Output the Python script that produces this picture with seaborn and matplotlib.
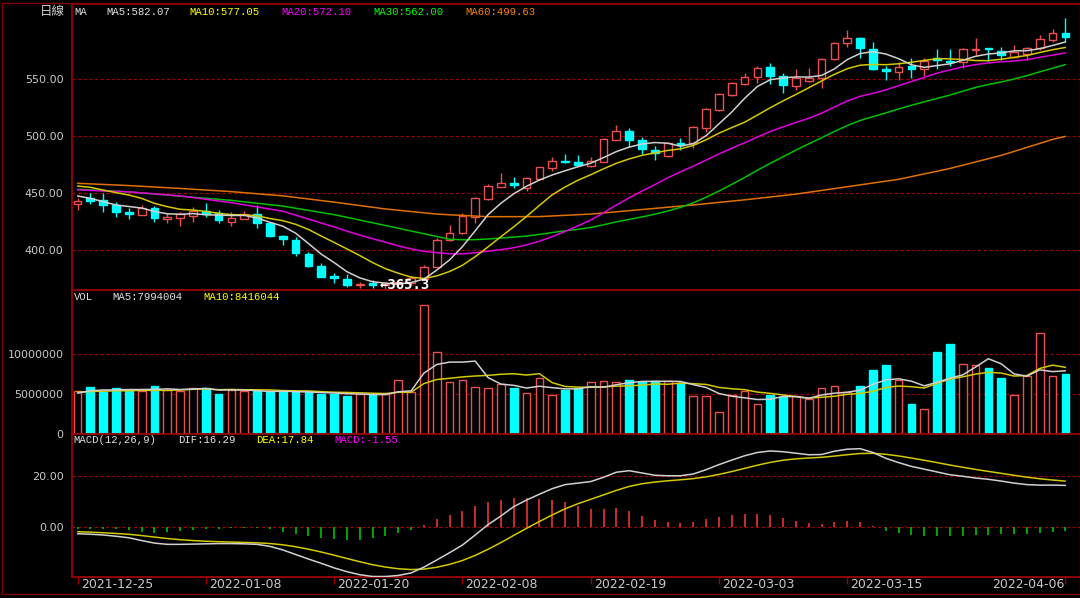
import numpy as np
import pandas as pd
import seaborn as sns
import matplotlib
matplotlib.use("Agg")
import matplotlib.pyplot as plt
from matplotlib.patches import Rectangle
from matplotlib.transforms import blended_transform_factory

# ----------------------------
# Daily bars
# ----------------------------
opens = [440.1, 445.3, 443.9, 439.5, 433.6, 430.7, 436.5, 427.2, 428.4, 430.1,
         434.5, 432.7, 424.8, 427.2, 431.6, 423.4, 412.6, 408.8, 396.5, 386.3,
         377.0, 374.2, 369.3, 370.7, 369.5, 370.3, 371.1, 374.2, 385.3, 408.7,
         414.6, 429.2, 444.4, 455.5, 459.0, 454.1, 462.2, 472.2, 478.0, 477.5,
         473.7, 477.5, 496.5, 504.7, 496.5, 487.7, 482.4, 493.6, 493.6, 506.7,
         522.8, 536.0, 545.3, 551.5, 560.2, 552.6, 543.8, 548.5, 550.6, 567.5,
         581.3, 585.7, 576.0, 558.5, 555.8, 561.7, 558.8, 568.1, 565.8, 565.2,
         575.2, 576.9, 574.8, 569.6, 571.6, 576.9, 584.2, 590.0]
closes = [443.3, 443.0, 439.2, 433.6, 431.6, 436.5, 427.8, 429.2, 431.6, 434.5,
          431.3, 426.3, 427.8, 431.6, 423.4, 412.3, 409.4, 397.1, 386.3, 376.6,
          375.5, 369.3, 370.0, 369.5, 370.3, 372.0, 375.4, 385.3, 408.7, 415.2,
          429.8, 445.3, 456.1, 458.4, 457.0, 462.8, 472.5, 478.3, 476.9, 474.5,
          478.4, 497.1, 504.7, 496.5, 488.3, 484.8, 494.1, 491.8, 507.6, 523.4,
          536.5, 546.2, 551.5, 559.9, 552.6, 544.7, 550.6, 550.6, 567.2, 581.3,
          585.7, 576.9, 558.8, 557.0, 560.8, 558.8, 565.8, 566.6, 564.6, 576.3,
          576.3, 576.0, 571.0, 574.0, 576.9, 585.1, 590.0, 586.5]
highs = [445.3, 449.7, 450.3, 442.4, 436.5, 439.5, 438.6, 432.2, 433.6, 438.0,
         440.9, 435.1, 433.6, 434.5, 439.5, 424.8, 413.2, 411.7, 398.5, 388.3,
         379.5, 378.9, 372.2, 373.6, 372.0, 373.5, 377.2, 386.8, 410.2, 421.9,
         432.1, 446.7, 457.9, 467.2, 464.3, 463.7, 473.1, 481.2, 484.2, 483.3,
         481.9, 497.9, 509.6, 506.7, 499.4, 491.2, 495.0, 497.9, 508.8, 524.3,
         537.4, 547.6, 555.5, 561.4, 563.7, 555.0, 558.5, 559.3, 568.1, 582.7,
         593.0, 587.1, 582.7, 561.4, 565.2, 568.1, 568.1, 576.3, 576.3, 577.5,
         586.2, 577.5, 578.3, 579.8, 578.3, 588.6, 593.8, 603.2]
lows = [435.1, 440.1, 433.6, 429.2, 426.9, 430.7, 424.8, 423.4, 421.0, 424.8,
        429.2, 423.4, 421.0, 427.2, 419.0, 411.7, 404.4, 394.7, 384.8, 376.0,
        370.7, 367.8, 366.3, 366.3, 365.3, 368.5, 369.3, 373.6, 384.8, 408.1,
        414.0, 423.4, 443.8, 455.5, 454.1, 452.0, 461.4, 469.6, 476.0, 473.6,
        472.5, 477.2, 496.5, 490.6, 484.2, 478.9, 481.9, 487.7, 489.2, 503.8,
        522.2, 535.4, 544.7, 546.8, 545.6, 538.0, 540.3, 547.7, 541.8, 566.6,
        578.3, 568.7, 557.9, 549.1, 549.1, 550.6, 552.9, 558.8, 561.7, 559.3,
        571.0, 565.8, 566.6, 568.1, 566.6, 575.4, 582.7, 582.1]
# volume in millions of shares
volumes_m = [5.4, 5.9, 5.2, 5.8, 5.5, 5.4, 6.0, 5.5, 5.4, 5.8,
             5.8, 5.0, 5.5, 5.4, 5.4, 5.25, 5.2, 5.2, 5.25, 5.0,
             5.0, 4.75, 5.0, 4.9, 5.0, 6.75, 5.3, 16.1, 10.3, 6.5,
             6.75, 5.9, 5.8, 6.25, 5.7, 5.1, 7.0, 4.9, 5.5, 5.7,
             6.5, 6.6, 6.5, 6.75, 6.5, 6.6, 6.6, 6.4, 4.75, 4.75,
             2.8, 4.9, 5.4, 3.7, 4.9, 4.6, 4.7, 4.4, 5.8, 6.0,
             5.2, 6.0, 8.0, 8.6, 6.7, 3.7, 3.1, 10.2, 11.2, 8.75,
             8.6, 8.3, 7.0, 4.9, 7.3, 12.6, 7.2, 7.5]
# MACD DIF line read per bar, DEA starts from the value shown at the first bar
dif = [-2.8, -3.0, -3.3, -3.8, -4.4, -5.5, -6.5, -7.0, -7.0, -6.9,
       -6.8, -6.7, -6.7, -6.8, -7.0, -7.8, -9.2, -11.0, -12.8, -14.5,
       -16.3, -17.8, -19.0, -19.7, -19.7, -19.3, -18.3, -16.0, -13.2, -10.3,
       -7.3, -3.3, 0.8, 4.2, 7.9, 10.5, 12.8, 15.0, 16.6, 17.2,
       17.8, 19.5, 21.5, 22.1, 21.2, 20.3, 20.1, 20.1, 20.8, 22.5,
       24.5, 26.3, 28.0, 29.3, 29.9, 29.6, 29.0, 28.4, 28.5, 29.8,
       30.6, 30.8, 29.3, 27.0, 25.3, 23.8, 22.7, 21.6, 20.5, 19.9,
       19.2, 18.7, 18.0, 17.2, 16.6, 16.4, 16.4, 16.29]
dea_first = -2.0

# moving-average values before the window fills
ma5_head = [447.4, 445.3, 442.4, 439.5]
ma10_head = [456.1, 455.0, 452.6, 450.3, 448.2, 445.3, 440.9, 438.0, 435.7]
ma20_head_idx = [0, 4, 8, 12, 16]
ma20_head = [452.7, 451.0, 447.5, 441.5, 434.0]
ma30_head_idx = [0, 4, 8, 12, 16, 20, 24]
ma30_head = [453.2, 451.0, 447.2, 443.5, 438.5, 431.0, 421.5]
ma60_idx = [0, 4, 8, 12, 16, 20, 24, 28, 32, 36, 40, 44, 48, 52, 56, 60, 64, 68, 72, 76, 77]
ma60_vals = [458.5, 456.5, 454.0, 451.2, 447.5, 442.0, 436.0, 431.5, 429.2, 429.3,
             431.5, 435.5, 439.5, 444.0, 449.0, 455.5, 462.0, 471.5, 483.0, 497.0, 499.63]
vol_ma5_head = [5.1, 5.4, 5.5, 5.5]
vol_ma10_head = [5.25, 5.3, 5.35, 5.4, 5.4, 5.45, 5.45, 5.45, 5.5]

tick_idx = [0, 10, 20, 30, 40, 50, 60, 77]
tick_labels = ["2021-12-25", "2022-01-08", "2022-01-20", "2022-02-08",
               "2022-02-19", "2022-03-03", "2022-03-15", "2022-04-06"]

price_ticks = [400, 450, 500, 550]
vol_ticks = [0, 5000000, 10000000]
macd_ticks = [0, 20]

# ----------------------------
# Derived series
# ----------------------------
df = pd.DataFrame({"open": opens, "close": closes, "high": highs,
                   "low": lows, "volume": np.array(volumes_m) * 1e6})
n = len(df)
x = np.arange(n)

ma5 = df["close"].rolling(5).mean().to_numpy()
ma5[:4] = ma5_head
ma10 = df["close"].rolling(10).mean().to_numpy()
ma10[:9] = ma10_head
ma20_roll = df["close"].rolling(20).mean()
ma20_x = ma20_head_idx + list(range(19, n))
ma20_y = ma20_head + list(ma20_roll.iloc[19:])
ma30_roll = df["close"].rolling(30).mean()
ma30_x = ma30_head_idx + list(range(29, n))
ma30_y = ma30_head + list(ma30_roll.iloc[29:])

vma5 = df["volume"].rolling(5).mean().to_numpy()
vma5[:4] = np.array(vol_ma5_head) * 1e6
vma10 = df["volume"].rolling(10).mean().to_numpy()
vma10[:9] = np.array(vol_ma10_head) * 1e6

dif_s = pd.Series(dif)
dea = pd.Series([dea_first] + dif[1:]).ewm(alpha=0.2, adjust=False).mean()
hist = dif_s - dea

# ----------------------------
# Style
# ----------------------------
sns.set_theme(style="dark", rc={"figure.facecolor": "black", "axes.facecolor": "black",
                                "axes.edgecolor": "#9a0000", "axes.grid": False,
                                "text.color": "#d0d0d0"})
plt.rcParams["font.family"] = ["DejaVu Sans", "Noto Sans CJK TC"]

RED = "#ec4f4f"
CYAN = "#00ffff"
FRAME = "#9a0000"
GRID = "#9a0000"
C_MA5 = "#d0d0d0"
C_MA10 = "#d4c800"
C_MA20 = "#e000e0"
C_MA30 = "#00c000"
C_MA60 = "#e07000"
LBL = "#c8c8c8"
TICKFONT = ["Liberation Sans Narrow", "DejaVu Sans"]
MONO = ["Liberation Mono", "DejaVu Sans Mono"]

W, H = 1080, 598
fig = plt.figure(figsize=(W / 100, H / 100), dpi=100)
left = 72 / W
width = 1 - left


def panel(top_px, bot_px):
    return fig.add_axes([left, 1 - bot_px / H, width, (bot_px - top_px) / H])


ax_p = panel(4, 290)
ax_v = panel(290, 434)
ax_m = panel(434, 577)

xlim = (-0.43, 78.14)
for ax in (ax_p, ax_v, ax_m):
    ax.set_facecolor("black")
    ax.set_xlim(*xlim)
    for side in ("right", "bottom"):
        ax.spines[side].set_visible(False)
    for side in ("left", "top"):
        ax.spines[side].set_color(FRAME)
        ax.spines[side].set_linewidth(1.3)
    ax.tick_params(axis="y", length=0, pad=6, labelsize=8, labelcolor=LBL)
    ax.tick_params(axis="x", bottom=False, labelbottom=False)
ax_m.spines["bottom"].set_visible(True)
ax_m.spines["bottom"].set_color(FRAME)
ax_m.spines["bottom"].set_linewidth(1.3)

# ----------------------------
# Price panel
# ----------------------------
ax_p.set_ylim(364.9, 615.8)
for v in price_ticks:
    ax_p.axhline(v, color=GRID, lw=0.8, ls=(0, (3, 2)), zorder=0)
ax_p.set_yticks(price_ticks)
ax_p.set_yticklabels([f"{v:.2f}" for v in price_ticks])

bw = 0.6
for i, r in df.iterrows():
    lo_b, hi_b = min(r.open, r.close), max(r.open, r.close)
    if r.close >= r.open:
        ax_p.vlines(i, hi_b, r.high, color=RED, lw=1, zorder=3)
        ax_p.vlines(i, r.low, lo_b, color=RED, lw=1, zorder=3)
        ax_p.add_patch(Rectangle((i - bw / 2, lo_b), bw, hi_b - lo_b, facecolor="black",
                                 edgecolor=RED, lw=1, zorder=3))
    else:
        ax_p.vlines(i, r.low, r.high, color=CYAN, lw=1, zorder=3)
        ax_p.add_patch(Rectangle((i - bw / 2, lo_b), bw, hi_b - lo_b, facecolor=CYAN,
                                 edgecolor=CYAN, lw=1, zorder=3))

sns.lineplot(x=ma60_idx, y=ma60_vals, ax=ax_p, color=C_MA60, lw=1.1, estimator=None, zorder=4)
sns.lineplot(x=ma30_x, y=ma30_y, ax=ax_p, color=C_MA30, lw=1.1, estimator=None, zorder=4)
sns.lineplot(x=ma20_x, y=ma20_y, ax=ax_p, color=C_MA20, lw=1.1, estimator=None, zorder=4)
sns.lineplot(x=x, y=ma10, ax=ax_p, color=C_MA10, lw=1.1, estimator=None, zorder=4)
sns.lineplot(x=x, y=ma5, ax=ax_p, color=C_MA5, lw=1.1, estimator=None, zorder=4)

low_i = int(np.argmin(lows))
ax_p.text(low_i - 0.45, lows[low_i] + 4, f"\u2190{lows[low_i]:.1f}", color="white",
          fontsize=10, fontweight="bold", family=["DejaVu Sans Mono"], va="center",
          ha="left", zorder=6)

# ----------------------------
# Volume panel
# ----------------------------
ax_v.set_ylim(0, 18e6)
for v in vol_ticks[1:]:
    ax_v.axhline(v, color=GRID, lw=0.8, ls=(0, (3, 2)), zorder=0)
ax_v.set_yticks(vol_ticks)
ax_v.set_yticklabels([str(v) for v in vol_ticks])
up = (df["close"] >= df["open"]).to_numpy()
ax_v.bar(x, df["volume"], width=0.6,
         color=["black" if u else CYAN for u in up],
         edgecolor=[RED if u else CYAN for u in up], linewidth=1, zorder=3)
sns.lineplot(x=x, y=vma10, ax=ax_v, color=C_MA10, lw=1.1, estimator=None, zorder=4)
sns.lineplot(x=x, y=vma5, ax=ax_v, color=C_MA5, lw=1.1, estimator=None, zorder=4)

# ----------------------------
# MACD panel
# ----------------------------
ax_m.set_ylim(-19.9, 36.6)
for v in macd_ticks:
    ax_m.axhline(v, color=GRID, lw=0.8, ls=(0, (3, 2)), zorder=0)
ax_m.set_yticks(macd_ticks)
ax_m.set_yticklabels([f"{v:.2f}" for v in macd_ticks])
hv = hist.to_numpy()
ax_m.vlines(x, 0, hv, colors=["#d83030" if h > 0 else "#00b400" for h in hv], lw=1.3, zorder=3)
sns.lineplot(x=x, y=dea, ax=ax_m, color=C_MA10, lw=1.1, estimator=None, zorder=4)
sns.lineplot(x=x, y=dif_s, ax=ax_m, color=C_MA5, lw=1.1, estimator=None, zorder=4)

ax_m.set_xticks(tick_idx)
ax_m.tick_params(axis="x", bottom=True, length=5, width=1, color=FRAME, direction="out")
trans = blended_transform_factory(ax_m.transData, ax_m.transAxes)
for k, (ti, tl) in enumerate(zip(tick_idx, tick_labels)):
    last = k == len(tick_idx) - 1
    ax_m.text(ti + (-0.1 if last else 0.25), -0.004, tl, transform=trans, color=LBL,
              fontsize=9, ha="right" if last else "left", va="top")

for ax in (ax_p, ax_v, ax_m):
    for lbl in ax.get_yticklabels():
        lbl.set_fontfamily(TICKFONT)
    ax.set_xlabel("")
    ax.set_ylabel("")

# ----------------------------
# Legends (text rows)
# ----------------------------
def label(px, py, s, color, fam=MONO, size=7.7):
    fig.text(px / W, 1 - py / H, s, color=color, fontsize=size, family=fam,
             va="center", ha="left")


label(40, 12, "日線", "#d0d0d0", fam=["Noto Sans CJK TC", "DejaVu Sans"], size=9)
label(74, 12, "MA", "#e0e0e0")
label(106, 12, "MA5:582.07", "#e0e0e0")
label(189, 12, "MA10:577.05", "#ffff00")
label(281, 12, "MA20:572.10", "#ff00ff")
label(373, 12, "MA30:562.00", "#00ff00")
label(465, 12, "MA60:499.63", "#ff8000")

label(74, 297, "VOL", "#e0e0e0")
label(112, 297, "MA5:7994004", "#e0e0e0")
label(203, 297, "MA10:8416044", "#ffff00")

label(73, 440, "MACD(12,26,9)", "#e0e0e0")
label(178, 440, "DIF:16.29", "#e0e0e0")
label(256, 440, "DEA:17.84", "#ffff00")
label(334, 440, "MACD:-1.55", "#ff00ff")

fig.add_artist(Rectangle((1.5 / W, 1 - 594 / H), 1 - 1.5 / W, (594 - 3) / H, fill=False,
                         edgecolor="#800000", lw=1, transform=fig.transFigure))

fig.savefig("out.png", dpi=100, facecolor="black")
